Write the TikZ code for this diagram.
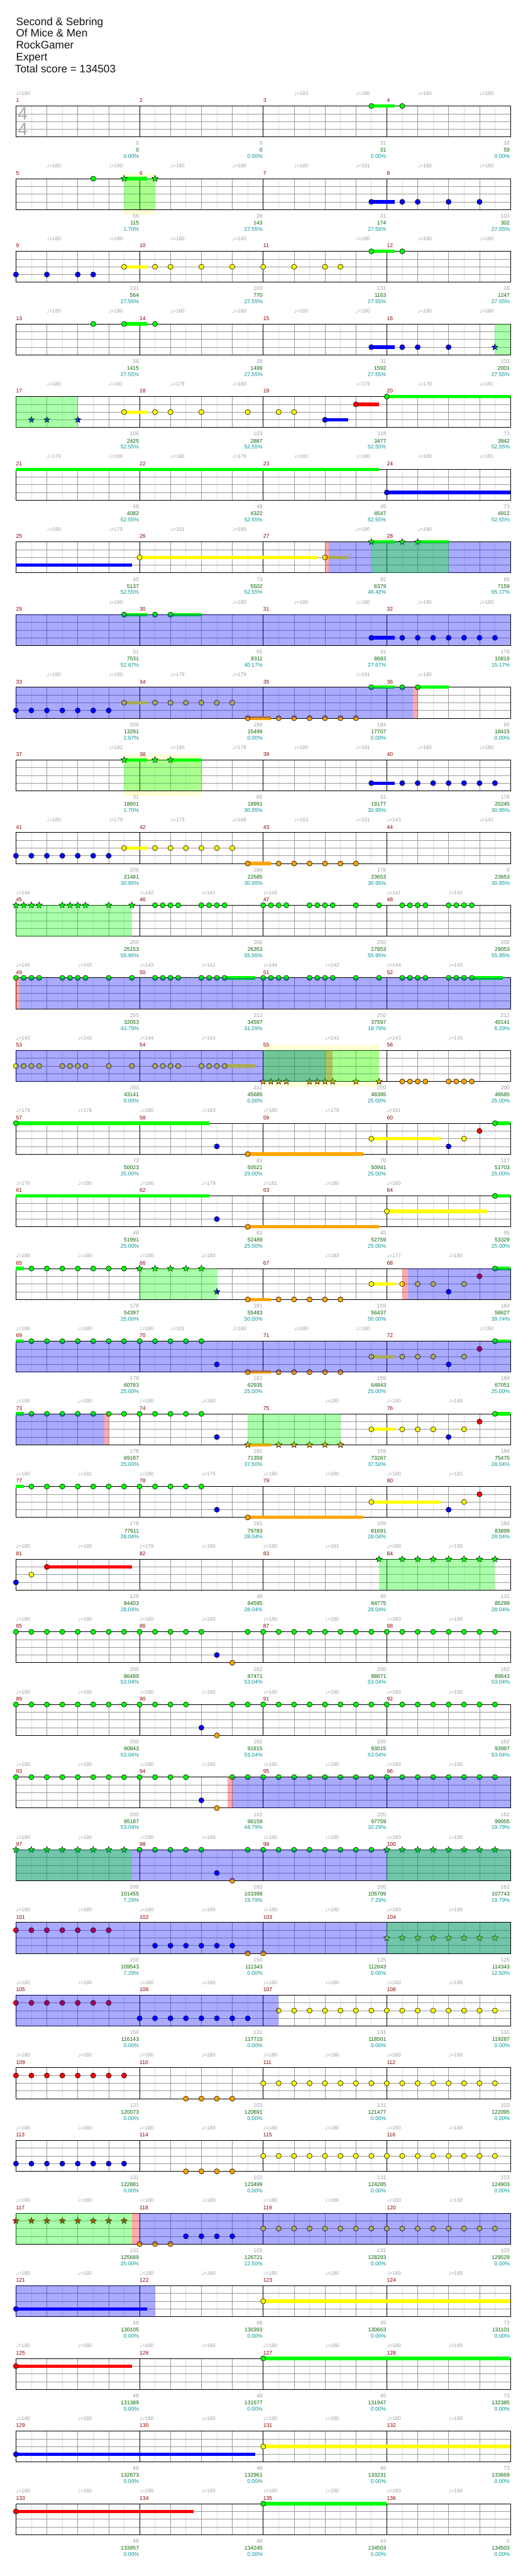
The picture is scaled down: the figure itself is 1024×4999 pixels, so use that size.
\documentclass[tikz,border=0pt]{standalone}
\usepackage{fontspec}
\setmainfont{Liberation Sans}
\newfontfamily\dvs{DejaVu Sans}
\usetikzlibrary{shapes.geometric}
\pgfdeclarelayer{bg}\pgfdeclarelayer{grid}\pgfdeclarelayer{sus}\pgfdeclarelayer{ov}
\pgfsetlayers{bg,grid,sus,main,ov}
\definecolor{cG}{RGB}{0,255,0}
\definecolor{cR}{RGB}{255,0,0}
\definecolor{cY}{RGB}{255,255,0}
\definecolor{cB}{RGB}{0,0,255}
\definecolor{cO}{RGB}{255,165,0}
\definecolor{mred}{RGB}{139,0,0}
\definecolor{lgray}{RGB}{160,160,160}
\definecolor{hgray}{RGB}{221,221,221}
\definecolor{bgray}{RGB}{153,153,153}
\definecolor{dgreen}{RGB}{0,100,0}
\definecolor{teal2}{RGB}{0,150,150}
\definecolor{spyel}{RGB}{255,255,212}
\def\lnG{0}\def\lnR{1}\def\lnY{2}\def\lnB{3}\def\lnO{4}
\tikzset{
 hl/.style={draw=hgray, line width=0.8pt},
 bl/.style={draw=bgray, line width=0.8pt},
 ml/.style={draw=black, line width=0.8pt},
 border/.style={draw=black, line width=1.1pt},
 notec/.style={draw=black, line width=0.7pt},
 starc/.style={star, star points=5, star point ratio=2.3, draw=black, line width=0.6pt, inner sep=0pt, minimum size=13pt},
 mnum/.style={anchor=base west, inner sep=0pt, text=mred, font=\fontsize{10.5}{12}\selectfont},
 tmp/.style={anchor=base west, inner sep=0pt, text=lgray, font=\fontsize{10}{12}\selectfont},
 sgr/.style={anchor=base east, inner sep=0pt, text=lgray, font=\fontsize{10.5}{12}\selectfont},
 sgn/.style={anchor=base east, inner sep=0pt, text=dgreen, font=\fontsize{10.5}{12}\selectfont},
 stl/.style={anchor=base east, inner sep=0pt, text=teal2, font=\fontsize{10.5}{12}\selectfont},
 head/.style={anchor=base west, inner sep=0pt, font=\fontsize{21}{24}\selectfont, text={rgb,255:red,20;green,20;blue,20}},
 tsig/.style={anchor=base, inner sep=0pt, font=\fontsize{35}{36}\selectfont, text={rgb,255:red,170;green,170;blue,170}}
}
\newcommand\Row[2]{\begin{scope}[shift={(31pt,{-205.7pt-141pt*#1})},x=60pt,y=-15pt]#2\end{scope}}
\newcommand\Grid[1]{%
 \begin{pgfonlayer}{grid}
 \foreach \b in {0.5,1.5,...,15.5} \draw[hl] (\b,0) -- (\b,4);
 \foreach \b in {1,2,3,5,6,7,9,10,11,13,14,15} \draw[bl] (\b,0) -- (\b,4);
 \foreach \k in {1,2,3} \draw[bl] (0,\k) -- (16,\k);
 \foreach \b in {4,8,12} \draw[ml] (\b,0) -- (\b,4);
 \draw[border] (0,0) rectangle (16,4);
 \end{pgfonlayer}
 \foreach \k in {0,1,2,3}{\pgfmathtruncatemacro\mm{#1+\k}\node[mnum] at (4*\k,-0.47) {\mm};}}
\newcommand\Nn[2]{\foreach \b in {#2}{\path[notec,fill=c#1] (\b,\csname ln#1\endcsname) circle[radius=5pt];}}
\newcommand\Ns[2]{\foreach \b in {#2}{\node[starc,fill=c#1] at (\b,\csname ln#1\endcsname) {};}}
\newcommand\Su[3]{\begin{pgfonlayer}{sus}\draw[line width=6.5pt,c#1] (#2,\csname ln#1\endcsname) -- (#3,\csname ln#1\endcsname);\end{pgfonlayer}}
\newcommand\OvB[2]{\begin{pgfonlayer}{ov}\fill[cB,fill opacity=0.3333] (#1,0) rectangle (#2,4);\end{pgfonlayer}}
\newcommand\OvG[2]{\begin{pgfonlayer}{ov}\fill[cG,fill opacity=0.3333] (#1,0) rectangle (#2,4);\end{pgfonlayer}}
\newcommand\OvR[2]{\begin{pgfonlayer}{ov}\fill[cR,fill opacity=0.3333] (#1,0) rectangle (#2,4);\end{pgfonlayer}}
\newcommand\SY[2]{\begin{pgfonlayer}{bg}\fill[spyel] (#1,-0.667) rectangle (#2,4.667);\end{pgfonlayer}}
\newcommand\Tp[1]{\foreach \b/\v in {#1}{\node[tmp] at (\b,-1.4) {{\dvs\char"2669}=\v};}}
\newcommand\Sc[1]{\foreach \k/\a/\g/\p in {#1}{%
 \node[sgr] at (4*\k-0.017,5.07) {\a};
 \node[sgn] at (4*\k-0.017,5.97) {\g};
 \node[stl] at (4*\k-0.017,6.77) {\p\%};}}
\begin{document}
\begin{tikzpicture}[x=1pt,y=-1pt]
\useasboundingbox (0,0) rectangle (1024,4999);
\begin{pgfonlayer}{bg}\fill[white] (0,0) rectangle (1024,4999);\end{pgfonlayer}
\node[head] at (31,49) {Second \& Sebring};
\node[head] at (31,72) {Of Mice \& Men};
\node[head] at (31,95) {RockGamer};
\node[head] at (31,118) {Expert};
\node[head] at (29,141) {Total score = 134503};
\Row{0}{\Grid{1}
 \node[tsig] at (0.22,1.82) {4};\node[tsig] at (0.22,3.82) {4};
 \Tp{0/180,9/183,11/180,13/180,15/180}
 \Su{G}{11.5}{12.25}\Nn{G}{11.5,12.5}
 \Sc{1/0/0/0.00,2/0/0/0.00,3/31/31/0.00,4/28/59/0.00}}
\Row{1}{\Grid{5}
 \Tp{1/180,3/180,5/180,7/180,9/180,11/181,13/180,15/180}
 \SY{3.5}{4.5}\OvG{3.5}{4.5}
 \Nn{G}{2.5}\Su{G}{3.5}{4.25}\Ns{G}{3.5,4.5}
 \Su{B}{11.5}{12.25}\Nn{B}{11.5,12.5,13,14,15}
 \Sc{1/56/115/1.70,2/28/143/27.55,3/31/174/27.55,4/103/302/27.55}}
\Row{2}{\Grid{9}
 \Tp{1/180,3/180,5/180,7/180,11/180,13/180,15/180}
 \Nn{B}{0,1,2,2.5}
 \Su{Y}{3.5}{4.25}\Nn{Y}{3.5,4.5,5,6,7,8,9,10,10.5}
 \Su{G}{11.5}{12.25}\Nn{G}{11.5,12.5}
 \Sc{1/131/564/27.55,2/103/770/27.55,3/131/1163/27.55,4/28/1247/27.55}}
\Row{3}{\Grid{13}
 \Tp{1/180,3/180,5/180,7/180,9/180,11/180,13/180,15/180}
 \Nn{G}{2.5}\Su{G}{3.5}{4.25}\Nn{G}{3.5,4.5}
 \Su{B}{11.5}{12.25}\Nn{B}{11.5,12.5,13,14}\Ns{B}{15.5}
 \OvG{15.5}{16}
 \Sc{1/56/1415/27.55,2/28/1499/27.55,3/31/1592/27.55,4/103/2001/27.55}}
\Row{4}{\Grid{17}
 \Tp{1/180,3/181,5/179,7/180,11/179,13/179,15/181}
 \OvG{0}{2}\Ns{B}{0.5,1,2}
 \Su{Y}{3.5}{4.25}\Nn{Y}{3.5,4.5,5,6,7.5,8.5,9}
 \Su{B}{10}{10.75}\Nn{B}{10}
 \Su{R}{11}{11.75}\Nn{R}{11}
 \Su{G}{12}{16}\Nn{G}{12}
 \Sc{1/106/2425/52.55,2/103/2887/52.55,3/118/3477/52.55,4/73/3842/52.55}}
\Row{5}{\Grid{21}
 \Tp{1/179,3/180,5/180,7/179,9/181,11/180,13/180,15/181}
 \Su{G}{0}{11.75}
 \Su{B}{12}{16}\Nn{B}{12}
 \Sc{1/48/4082/52.55,2/48/4322/52.55,3/45/4547/52.55,4/73/4912/52.55}}
\Row{6}{\Grid{25}
 \Tp{1/180,3/179,5/181,7/180,11/180,13/180}
 \Su{B}{0}{3.75}
 \Su{Y}{4}{9.75}\Nn{Y}{4}
 \Su{Y}{10}{10.75}\Nn{Y}{10}
 \OvR{10}{10.12}\OvB{10.12}{16}\OvG{11.5}{14}
 \Su{G}{11.5}{12.25}\Ns{G}{11.5,12.5}\Su{G}{13}{14}\Ns{G}{13}
 \Sc{1/45/5137/52.55,2/73/5502/52.55,3/92/6379/48.42,4/65/7159/65.17}}
\Row{7}{\Grid{29}
 \Tp{3/180,7/180,9/180,11/180,13/180,15/180}
 \OvB{0}{16}
 \Su{G}{3.5}{4.25}\Nn{G}{3.5,4.5}\Su{G}{5}{6}\Nn{G}{5}
 \Su{B}{11.5}{12.25}\Nn{B}{11.5,12.5,13,13.5,14,14.5,15,15.5}
 \Sc{1/31/7531/52.67,2/65/8311/40.17,3/31/8683/27.67,4/178/10819/15.17}}
\Row{8}{\Grid{33}
 \Tp{1/180,3/180,5/179,7/179,11/181,13/180}
 \OvB{0}{12.85}\OvR{12.85}{13}
 \Nn{B}{0,0.5,1,1.5,2,2.5,3}
 \Su{Y}{3.5}{4.25}\Nn{Y}{3.5,4.5,5,5.5,6,6.5,7}
 \Su{O}{7.5}{8.25}\Nn{O}{7.5,8.5,9,9.5,10,10.5,11}
 \Su{G}{11.5}{12.25}\Nn{G}{11.5,12.5}\Su{G}{13}{14}\Nn{G}{13}
 \Sc{1/206/13291/2.67,2/184/15499/0.00,3/184/17707/0.00,4/65/18415/0.00}}
\Row{9}{\Grid{37}
 \Tp{3/182,5/180,7/178,9/180,11/181,13/180,15/180}
 \SY{3.5}{6}\OvG{3.5}{6}
 \Su{G}{3.5}{4.25}\Ns{G}{3.5,4.5}\Su{G}{5}{6}\Ns{G}{5}
 \Su{B}{11.5}{12.25}\Nn{B}{11.5,12.5,13,13.5,14,14.5,15,15.5}
 \Sc{1/31/18601/1.70,2/65/18991/30.95,3/31/19177/30.95,4/178/20245/30.95}}
\Row{10}{\Grid{41}
 \Tp{1/180,3/179,5/173,7/168,9/163,11/151,12/143,15/141}
 \Nn{B}{0,0.5,1,1.5,2,2.5,3}
 \Su{Y}{3.5}{4.25}\Nn{Y}{3.5,4.5,5,5.5,6,6.5,7}
 \Su{O}{7.5}{8.25}\Nn{O}{7.5,8.5,9,9.5,10,10.5,11}
 \Sc{1/206/21481/30.95,2/184/22585/30.95,3/178/23653/30.95,4/0/23653/30.95}}
\Row{11}{\Grid{45}
 \Tp{0/144,4/142,6/141,8/145,12/141,14/141}
 \OvG{0}{3.75}
 \Ns{G}{0,0.25,0.5,0.75,1.5,1.75,2,2.25,3,3.75}
 \Nn{G}{4.5,4.75,5,5.25,6,6.25,6.5,6.75,8,8.25,8.5,8.75,9.5,9.75,10,10.25,11,11.75,12.5,12.75,13,13.25,14,14.25,14.5,14.75}
 \Sc{1/250/25153/55.95,2/200/26353/55.95,3/250/27853/55.95,4/200/29053/55.95}}
\Row{12}{\Grid{49}
 \Tp{0/145,2/143,4/143,6/142,8/144,10/142,12/144,14/143}
 \OvR{0}{0.12}\OvB{0.12}{16}
 \Su{G}{6.75}{7.75}\Su{G}{14.75}{15.75}
 \Nn{G}{0,0.25,0.5,0.75,1.5,1.75,2,2.25,3,3.75,4.5,4.75,5,5.25,6,6.25,6.5,6.75,8,8.25,8.5,8.75,9.5,9.75,10,10.25,11,11.75,12.5,12.75,13,13.25,14,14.25,14.5,14.75}
 \Sc{1/250/32053/43.79,2/212/34597/31.29,3/250/37597/18.79,4/212/40141/6.29}}
\Row{13}{\Grid{53}
 \Tp{0/143,2/143,4/144,6/143,10/143,12/143,14/143}
 \SY{8}{11.75}\OvB{0}{10}\OvR{10}{10.25}\OvG{8}{11.75}
 \Su{Y}{6.75}{7.75}
 \Nn{Y}{0,0.25,0.5,0.75,1.5,1.75,2,2.25,3,3.75,4.5,4.75,5,5.25,6,6.25,6.5,6.75}
 \Ns{O}{8,8.25,8.5,8.75,9.5,9.75,10,10.25,11,11.75}
 \Nn{O}{12.5,12.75,13,13.25,14,14.25,14.5,14.75}
 \Sc{1/250/43141/0.00,2/212/45685/0.00,3/250/48385/25.00,4/200/49585/25.00}}
\Row{14}{\Grid{57}
 \Tp{0/179,2/178,4/180,6/183,8/180,10/179,12/181}
 \Su{G}{0}{6.25}\Nn{G}{0}
 \Nn{B}{6.5}
 \Su{O}{7.5}{11.25}\Nn{O}{7.5}
 \Su{Y}{11.5}{13.75}\Nn{Y}{11.5}
 \Nn{B}{14}\Nn{Y}{14.5}\Nn{R}{15}
 \Su{G}{15.5}{16}\Nn{G}{15.5}
 \Sc{1/73/50023/25.00,2/83/50521/25.00,3/70/50941/25.00,4/127/51703/25.00}}
\Row{15}{\Grid{61}
 \Tp{0/179,2/180,4/180,6/179,8/181,10/180,12/180}
 \Su{G}{0}{6.25}\Nn{B}{6.5}
 \Su{O}{7.5}{11.75}\Nn{O}{7.5}
 \Su{Y}{12}{15.25}\Nn{Y}{12}
 \Su{G}{15.5}{16}\Nn{G}{15.5}
 \Sc{1/48/51991/25.00,2/83/52489/25.00,3/45/52759/25.00,4/95/53329/25.00}}
\Row{16}{\Grid{65}
 \Tp{0/180,2/180,4/180,6/180,10/183,12/177,14/180}
 \OvG{4}{6.5}\OvR{12.5}{12.69}\OvB{12.69}{16}
 \Su{G}{0}{0.25}\Nn{G}{0.5,1,1.5,2,2.5,3,3.5}\Ns{G}{4,4.5,5,5.5,6}\Ns{B}{6.5}
 \Su{O}{7.5}{8.25}\Nn{O}{7.5,8.5,9,9.5,10,10.5}
 \Su{Y}{11.5}{12.25}\Nn{Y}{11.5,12.5,13,13.5,14.5}\Nn{B}{14}\Nn{R}{15}
 \Su{G}{15.5}{16}\Nn{G}{15.5}
 \Sc{1/178/54397/25.00,2/181/55483/50.00,3/159/56437/50.00,4/184/58627/39.74}}
\Row{17}{\Grid{69}
 \Tp{0/180,2/180,4/180,5/181,7/180,9/180,11/180,15/180}
 \OvB{0}{16}
 \Su{G}{0}{0.25}\Nn{G}{0.5,1,1.5,2,2.5,3,3.5,4,4.5,5,5.5,6}\Nn{B}{6.5}
 \Su{O}{7.5}{8.25}\Nn{O}{7.5,8.5,9,9.5,10,10.5}
 \Su{Y}{11.5}{12.25}\Nn{Y}{11.5,12.5,13,13.5,14.5}\Nn{B}{14}\Nn{R}{15}
 \Su{G}{15.5}{16}\Nn{G}{15.5}
 \Sc{1/178/60763/25.00,2/181/62935/25.00,3/159/64843/25.00,4/184/67051/25.00}}
\Row{18}{\Grid{73}
 \Tp{0/180,2/180,4/180,6/180,10/180,12/180,14/180}
 \OvB{0}{2.85}\OvR{2.85}{3}\OvG{7.5}{10.5}
 \Su{G}{0}{0.25}\Nn{G}{0.5,1,...,6}\Nn{B}{6.5}
 \Su{O}{7.5}{8.25}\Ns{O}{7.5,8.5,9,9.5,10,10.5}
 \Su{Y}{11.5}{12.25}\Nn{Y}{11.5,12.5,13,13.5,14.5}\Nn{B}{14}\Nn{R}{15}
 \Su{G}{15.5}{16}\Nn{G}{15.5}
 \Sc{1/178/69187/25.00,2/181/71359/37.50,3/159/73267/37.50,4/184/75475/28.04}}
\Row{19}{\Grid{77}
 \Tp{0/180,2/181,4/180,6/179,8/180,10/180,12/180,14/181}
 \Su{G}{0}{0.25}\Nn{G}{0.5,1,...,6}\Nn{B}{6.5}
 \Su{O}{7.5}{11.25}\Nn{O}{7.5}
 \Su{Y}{11.5}{13.75}\Nn{Y}{11.5}
 \Nn{B}{14}\Nn{Y}{14.5}\Nn{R}{15}
 \Sc{1/178/77611/28.04,2/181/79783/28.04,3/159/81691/28.04,4/184/83899/28.04}}
\Row{20}{\Grid{81}
 \Tp{0/180,2/180,4/179,6/180,8/180,10/181,12/180,14/180}
 \Nn{B}{0}\Nn{Y}{0.5}\Su{R}{1}{3.75}\Nn{R}{1}
 \OvG{11.75}{15.5}\Ns{G}{11.75,12.5,13,13.5,14,14.5,15,15.5}
 \Sc{1/126/84403/28.04,2/48/84595/28.04,3/45/84775/28.04,4/131/85299/28.04}}
\Row{21}{\Grid{85}
 \Tp{0/180,2/180,4/180,6/180,8/180,10/180,12/180,14/180}
 \Nn{G}{0,0.5,...,6}\Nn{B}{6.5}\Nn{O}{7}\Nn{G}{7.5,8,...,15.5}
 \Sc{1/200/86499/53.04,2/162/87471/53.04,3/200/88671/53.04,4/162/89643/53.04}}
\Row{22}{\Grid{89}
 \Tp{0/180,2/180,4/180,6/180,8/180,10/180,12/180,14/180}
 \Nn{G}{0,0.5,...,5.5}\Nn{B}{6}\Nn{O}{6.5}\Nn{G}{7,7.5,...,15.5}
 \Sc{1/200/90843/53.04,2/162/91815/53.04,3/200/93015/53.04,4/162/93987/53.04}}
\Row{23}{\Grid{93}
 \Tp{0/180,2/180,4/180,6/180,8/180,10/180,12/180,14/180}
 \OvR{6.85}{7}\OvB{7}{16}
 \Nn{G}{0,0.5,...,5.5}\Nn{B}{6}\Nn{O}{6.5}\Nn{G}{7,7.5,...,15.5}
 \Sc{1/200/95187/53.04,2/162/96159/44.79,3/200/97759/32.29,4/162/99055/19.79}}
\Row{24}{\Grid{97}
 \Tp{0/180,2/180,4/180,6/180,8/180,10/180,12/180,14/180}
 \OvB{0}{16}\OvG{0}{3.75}\OvG{12}{16}
 \Ns{G}{0,0.5,...,3.5}\Nn{G}{4,4.5,...,6}\Nn{B}{6.5}\Nn{O}{7}\Nn{G}{7.5,8,...,11.5}\Ns{G}{12,12.5,...,15.5}
 \Sc{1/200/101455/7.29,2/162/103399/19.79,3/200/105799/7.29,4/162/107743/19.79}}
\Row{25}{\Grid{101}
 \Tp{0/180,2/180,4/180,6/180,8/180,10/180,12/180,14/180}
 \OvB{0}{16}\OvG{12}{16}
 \Nn{R}{0,0.5,...,3}\Nn{B}{4.5,5,...,7}\Nn{O}{7.5,8}\Ns{Y}{12,12.5,...,15.5}
 \Sc{1/150/109543/7.29,2/150/111343/0.00,3/125/112843/0.00,4/125/114343/12.50}}
\Row{26}{\Grid{105}
 \Tp{0/180,2/180,4/180,6/180,8/180,10/180,12/180,14/180}
 \OvB{0}{8.5}
 \Nn{R}{0,0.5,...,3}\Nn{B}{4,4.5,...,7.5}\Nn{Y}{8.5,9,...,15.5}
 \Sc{1/150/116143/0.00,2/131/117715/0.00,3/131/118501/0.00,4/131/119287/0.00}}
\Row{27}{\Grid{109}
 \Tp{0/180,2/180,4/180,6/180,8/180,10/180,12/180,14/180}
 \Nn{R}{0,0.5,...,3.5}\Nn{O}{5.5,6,6.5,7}\Nn{Y}{8,8.5,...,15.5}
 \Sc{1/131/120073/0.00,2/103/120691/0.00,3/131/121477/0.00,4/103/122095/0.00}}
\Row{28}{\Grid{113}
 \Tp{0/180,2/180,4/180,6/180,8/180,10/180,12/180,14/180}
 \Nn{B}{0,0.5,...,3.5}\Nn{O}{5.5,6,6.5,7}\Nn{Y}{8,8.5,...,15.5}
 \Sc{1/131/122881/0.00,2/103/123499/0.00,3/131/124285/0.00,4/103/124903/0.00}}
\Row{29}{\Grid{117}
 \Tp{0/180,2/180,4/180,6/180,8/180,10/180,12/180,14/180}
 \OvG{0}{3.75}\OvR{3.75}{4}\OvB{4}{16}
 \Ns{R}{0,0.5,...,3.5}\Nn{O}{4,4.5,5}\Nn{B}{5.5,6,6.5,7}\Nn{Y}{8,8.5,...,15.5}
 \Sc{1/131/125689/25.00,2/103/126721/12.50,3/131/128293/0.00,4/103/129529/0.00}}
\Row{30}{\Grid{121}
 \Tp{0/180,2/180,4/180,6/180,8/180,10/180,12/180,14/180}
 \OvB{0}{4.5}
 \Su{B}{0}{4.25}\Nn{B}{0}\Su{Y}{8}{16}\Nn{Y}{8}
 \Sc{1/48/130105/0.00,2/48/130393/0.00,3/45/130663/0.00,4/73/131101/0.00}}
\Row{31}{\Grid{125}
 \Tp{0/180,2/180,4/180,6/180,8/180,10/180,12/180,14/180}
 \Su{R}{0}{3.75}\Nn{R}{0}\Su{G}{8}{16}\Nn{G}{8}
 \Sc{1/48/131389/0.00,2/48/131677/0.00,3/45/131947/0.00,4/73/132385/0.00}}
\Row{32}{\Grid{129}
 \Tp{0/180,2/180,4/180,6/180,8/180,10/180,12/180,14/180}
 \Su{B}{0}{7.75}\Nn{B}{0}\Su{Y}{8}{16}\Nn{Y}{8}
 \Sc{1/48/132673/0.00,2/48/132961/0.00,3/45/133231/0.00,4/73/133669/0.00}}
\Row{33}{\Grid{133}
 \Tp{0/180,2/180,4/180,6/180,8/180,10/180,12/180,14/180}
 \Su{R}{0}{5.75}\Nn{R}{0}\Su{G}{8}{12}\Nn{G}{8}
 \Sc{1/48/133957/0.00,2/48/134245/0.00,3/43/134503/0.00,4/0/134503/0.00}}
\end{tikzpicture}
\end{document}
